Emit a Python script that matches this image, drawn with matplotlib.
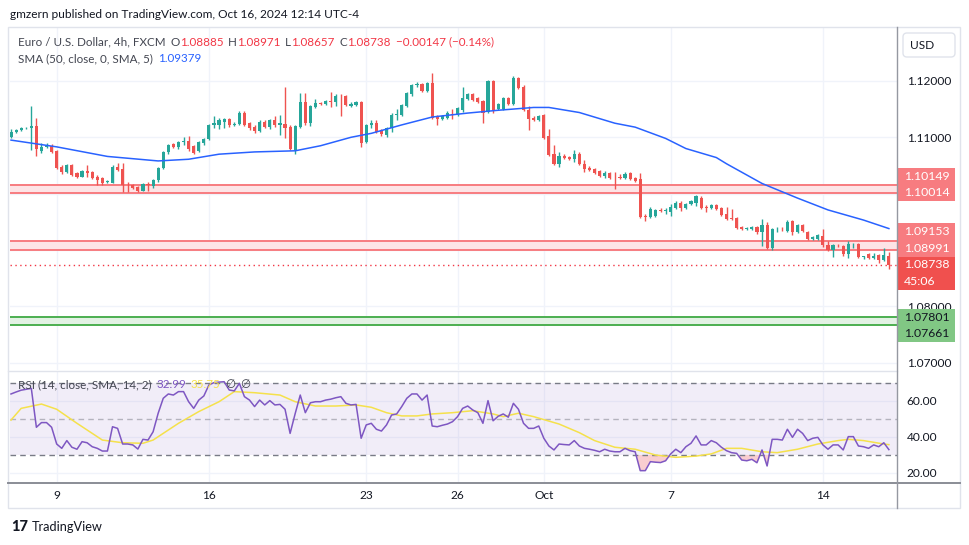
import matplotlib
matplotlib.use("Agg")
import numpy as np
import matplotlib.pyplot as plt
from matplotlib.patches import Rectangle, FancyBboxPatch

plt.rcParams['font.family'] = ['Lato', 'DejaVu Sans']

# 4h candles, EUR/USD (FXCM)
opens = [
    1.1100, 1.1109, 1.1113, 1.1116, 1.1116, 1.1120, 1.1076, 1.1082, 1.1085, 1.1076,
    1.1048, 1.1038, 1.1050, 1.1036, 1.1030, 1.1040, 1.1038, 1.1030, 1.1027, 1.1020,
    1.1019, 1.1048, 1.1044, 1.1016, 1.1015, 1.1012, 1.1005, 1.1017, 1.1014, 1.1024,
    1.1045, 1.1073, 1.1088, 1.1083, 1.1092, 1.1094, 1.1085, 1.1075, 1.1089, 1.1097,
    1.1121, 1.1122, 1.1128, 1.1133, 1.1121, 1.1123, 1.1144, 1.1125, 1.1119, 1.1112,
    1.1128, 1.1119, 1.1130, 1.1122, 1.1124, 1.1119, 1.1077, 1.1119, 1.1163, 1.1125,
    1.1154, 1.1161, 1.1159, 1.1165, 1.1163, 1.1174, 1.1173, 1.1155, 1.1157, 1.1163,
    1.1091, 1.1121, 1.1126, 1.1113, 1.1104, 1.1116, 1.1140, 1.1140, 1.1155, 1.1176,
    1.1192, 1.1195, 1.1183, 1.1196, 1.1137, 1.1133, 1.1135, 1.1141, 1.1140, 1.1149,
    1.1168, 1.1176, 1.1169, 1.1164, 1.1145, 1.1200, 1.1150, 1.1150, 1.1170, 1.1159,
    1.1205, 1.1190, 1.1148, 1.1135, 1.1131, 1.1140, 1.1103, 1.1070, 1.1053, 1.1067,
    1.1065, 1.1061, 1.1071, 1.1053, 1.1045, 1.1044, 1.1040, 1.1031, 1.1037, 1.1030,
    1.1030, 1.1028, 1.1036, 1.1028, 1.1026, 1.0960, 1.0959, 1.0961, 1.0970, 1.0969,
    1.0968, 1.0974, 1.0984, 1.0974, 1.0981, 1.0984, 1.0993, 1.0976, 1.0975, 1.0979,
    1.0975, 1.0963, 1.0956, 1.0957, 1.0941, 1.0938, 1.0938, 1.0941, 1.0932, 1.0944,
    1.0904, 1.0937, 1.0938, 1.0934, 1.0951, 1.0932, 1.0944, 1.0932, 1.0919, 1.0920,
    1.0925, 1.0909, 1.0900, 1.0909, 1.0907, 1.0892, 1.0910, 1.0910, 1.0888, 1.0892,
    1.0885, 1.0891, 1.0882, 1.08885,
]
highs = [
    1.1114, 1.1115, 1.1119, 1.1119, 1.1156, 1.1135, 1.1089, 1.1090, 1.1088, 1.1078,
    1.1050, 1.1053, 1.1052, 1.1038, 1.1042, 1.1050, 1.1041, 1.1033, 1.1030, 1.1024,
    1.1050, 1.1055, 1.1055, 1.1020, 1.1017, 1.1014, 1.1018, 1.1021, 1.1026, 1.1047,
    1.1075, 1.1088, 1.1090, 1.1094, 1.1100, 1.1102, 1.1087, 1.1093, 1.1099, 1.1124,
    1.1137, 1.1135, 1.1135, 1.1135, 1.1127, 1.1147, 1.1146, 1.1128, 1.1122, 1.1130,
    1.1131, 1.1132, 1.1137, 1.1140, 1.1190, 1.1122, 1.1122, 1.1179, 1.1178, 1.1158,
    1.1168, 1.1163, 1.1167, 1.1181, 1.1177, 1.1176, 1.1175, 1.1162, 1.1165, 1.1165,
    1.1124, 1.1131, 1.1130, 1.1115, 1.1119, 1.1143, 1.1150, 1.1159, 1.1181, 1.1195,
    1.1199, 1.1197, 1.1198, 1.1214, 1.1139, 1.1140, 1.1146, 1.1150, 1.1154, 1.1190,
    1.1178, 1.1178, 1.1171, 1.1166, 1.1202, 1.1202, 1.1161, 1.1171, 1.1172, 1.1209,
    1.1207, 1.1192, 1.1155, 1.1137, 1.1140, 1.1142, 1.1114, 1.1086, 1.1074, 1.1071,
    1.1067, 1.1077, 1.1074, 1.1060, 1.1049, 1.1046, 1.1042, 1.1041, 1.1039, 1.1039,
    1.1034, 1.1039, 1.1038, 1.1030, 1.1037, 1.0963, 1.0976, 1.0972, 1.0975, 1.0975,
    1.0981, 1.0986, 1.0986, 1.0984, 1.0988, 1.0998, 1.0995, 1.0980, 1.0981, 1.0981,
    1.0977, 1.0977, 1.0972, 1.0959, 1.0943, 1.0941, 1.0943, 1.0943, 1.0955, 1.0950,
    1.0939, 1.0940, 1.0941, 1.0953, 1.0953, 1.0946, 1.0946, 1.0934, 1.0925, 1.0929,
    1.0937, 1.0915, 1.0911, 1.0911, 1.0909, 1.0916, 1.0913, 1.0913, 1.0890, 1.0894,
    1.0894, 1.0893, 1.0903, 1.08971,
]
lows = [
    1.1098, 1.1107, 1.1111, 1.1114, 1.1078, 1.1066, 1.1072, 1.1081, 1.1072, 1.1044,
    1.1034, 1.1036, 1.1031, 1.1027, 1.1029, 1.1029, 1.1026, 1.1015, 1.1016, 1.1019,
    1.1018, 1.1040, 1.1002, 1.1002, 1.1008, 1.1003, 1.1004, 1.1005, 1.1010, 1.1021,
    1.1043, 1.1071, 1.1081, 1.1080, 1.1086, 1.1075, 1.1070, 1.1073, 1.1087, 1.1095,
    1.1116, 1.1115, 1.1117, 1.1119, 1.1120, 1.1121, 1.1120, 1.1113, 1.1108, 1.1110,
    1.1116, 1.1115, 1.1119, 1.1104, 1.1098, 1.1077, 1.1070, 1.1117, 1.1122, 1.1120,
    1.1152, 1.1157, 1.1157, 1.1154, 1.1155, 1.1137, 1.1155, 1.1153, 1.1155, 1.1083,
    1.1089, 1.1117, 1.1108, 1.1103, 1.1101, 1.1110, 1.1130, 1.1138, 1.1153, 1.1174,
    1.1189, 1.1181, 1.1181, 1.1132, 1.1122, 1.1130, 1.1133, 1.1132, 1.1138, 1.1145,
    1.1166, 1.1164, 1.1161, 1.1125, 1.1143, 1.1144, 1.1148, 1.1148, 1.1157, 1.1157,
    1.1186, 1.1146, 1.1113, 1.1129, 1.1129, 1.1097, 1.1066, 1.1050, 1.1048, 1.1062,
    1.1060, 1.1057, 1.1050, 1.1038, 1.1040, 1.1035, 1.1029, 1.1027, 1.1026, 1.1008,
    1.1026, 1.1026, 1.1024, 1.1021, 1.0957, 1.0952, 1.0957, 1.0959, 1.0967, 1.0964,
    1.0960, 1.0972, 1.0969, 1.0972, 1.0979, 1.0978, 1.0972, 1.0968, 1.0973, 1.0970,
    1.0961, 1.0953, 1.0953, 1.0937, 1.0936, 1.0936, 1.0936, 1.0929, 1.0907, 1.0902,
    1.0900, 1.0931, 1.0933, 1.0932, 1.0927, 1.0930, 1.0932, 1.0917, 1.0917, 1.0918,
    1.0906, 1.0898, 1.0888, 1.0906, 1.0890, 1.0886, 1.0903, 1.0886, 1.0883, 1.0883,
    1.0883, 1.0877, 1.0880, 1.08657,
]
closes = [
    1.1110, 1.1113, 1.1117, 1.1117, 1.1120, 1.1080, 1.1083, 1.1084, 1.1074, 1.1046,
    1.1038, 1.1050, 1.1033, 1.1029, 1.1040, 1.1036, 1.1028, 1.1024, 1.1018, 1.1022,
    1.1048, 1.1042, 1.1015, 1.1015, 1.1010, 1.1005, 1.1017, 1.1015, 1.1024, 1.1045,
    1.1073, 1.1086, 1.1083, 1.1092, 1.1093, 1.1079, 1.1072, 1.1091, 1.1097, 1.1122,
    1.1125, 1.1130, 1.1133, 1.1121, 1.1123, 1.1144, 1.1122, 1.1117, 1.1111, 1.1128,
    1.1119, 1.1130, 1.1121, 1.1125, 1.1117, 1.1080, 1.1120, 1.1163, 1.1125, 1.1156,
    1.1161, 1.1159, 1.1165, 1.1163, 1.1173, 1.1173, 1.1157, 1.1160, 1.1163, 1.1090,
    1.1122, 1.1126, 1.1110, 1.1105, 1.1117, 1.1140, 1.1141, 1.1157, 1.1179, 1.1193,
    1.1195, 1.1183, 1.1196, 1.1134, 1.1133, 1.1138, 1.1143, 1.1139, 1.1152, 1.1169,
    1.1176, 1.1166, 1.1163, 1.1144, 1.1200, 1.1146, 1.1159, 1.1169, 1.1159, 1.1206,
    1.1188, 1.1148, 1.1133, 1.1131, 1.1138, 1.1099, 1.1069, 1.1053, 1.1067, 1.1064,
    1.1062, 1.1071, 1.1052, 1.1044, 1.1042, 1.1037, 1.1031, 1.1037, 1.1028, 1.1029,
    1.1028, 1.1035, 1.1026, 1.1023, 1.0959, 1.0959, 1.0972, 1.0970, 1.0969, 1.0970,
    1.0977, 1.0984, 1.0974, 1.0982, 1.0986, 1.0995, 1.0974, 1.0975, 1.0979, 1.0972,
    1.0962, 1.0955, 1.0955, 1.0939, 1.0938, 1.0939, 1.0940, 1.0931, 1.0944, 1.0904,
    1.0937, 1.0938, 1.0937, 1.0950, 1.0932, 1.0944, 1.0934, 1.0919, 1.0923, 1.0926,
    1.0908, 1.0900, 1.0909, 1.0908, 1.0892, 1.0910, 1.0911, 1.0888, 1.0889, 1.0885,
    1.0890, 1.0882, 1.0891, 1.08738,
]

# SMA(50) read at points along the line
sma_idx = [0, 9, 19, 29, 35, 41, 48, 56, 61, 67, 71, 77, 83, 90, 96, 103, 106,
           112, 119, 123, 129, 133, 139, 141, 148, 155, 161, 168, 173]
sma_val = [1.1095, 1.1083, 1.1066, 1.1058, 1.1061, 1.1070, 1.1074, 1.1076, 1.1085,
           1.1100, 1.1107, 1.1122, 1.1136, 1.1143, 1.1148, 1.1153, 1.1153, 1.1144,
           1.1125, 1.1118, 1.1098, 1.1080, 1.1064, 1.1053, 1.1018, 1.0992, 1.0971,
           1.0953, 1.09379]

# RSI(14), one value per bar
rsi = [
    63.9, 65.0, 66.0, 66.5, 67.0, 45.4, 48.0, 48.0, 45.4, 36.1,
    33.7, 38.0, 34.3, 33.2, 37.4, 36.8, 34.6, 33.7, 32.2, 32.2,
    45.7, 44.8, 36.1, 36.1, 35.6, 33.3, 38.7, 38.3, 42.9, 53.2,
    61.5, 63.9, 63.3, 65.2, 65.2, 59.6, 55.9, 60.5, 62.8, 68.9,
    70.2, 70.5, 70.7, 66.1, 65.6, 69.8, 62.4, 60.5, 56.9, 60.5,
    57.8, 60.2, 57.8, 58.1, 55.4, 42.0, 53.0, 63.3, 53.5, 59.0,
    59.6, 59.6, 60.5, 61.0, 61.8, 62.4, 58.7, 57.8, 58.1, 39.3,
    46.7, 47.6, 44.3, 43.3, 46.7, 52.2, 52.8, 56.9, 61.5, 63.9,
    63.9, 60.5, 63.3, 46.1, 45.7, 46.5, 47.2, 48.5, 51.3, 55.9,
    57.2, 55.0, 53.5, 47.6, 60.2, 49.0, 51.5, 52.8, 51.0, 58.7,
    55.4, 47.6, 44.8, 44.8, 46.1, 39.3, 35.0, 32.8, 36.1, 35.8,
    35.6, 38.0, 35.0, 33.7, 33.2, 32.6, 31.8, 33.2, 32.2, 31.8,
    31.8, 33.7, 32.4, 31.8, 21.3, 21.3, 26.3, 26.0, 25.8, 26.8,
    30.6, 33.2, 31.3, 34.6, 36.5, 40.6, 35.6, 35.6, 38.0, 36.8,
    34.3, 32.4, 31.3, 30.9, 27.2, 26.8, 27.6, 25.7, 32.8, 23.9,
    38.7, 38.7, 38.3, 44.3, 39.8, 44.3, 42.0, 38.0, 39.3, 39.8,
    35.6, 33.2, 35.6, 35.6, 32.8, 40.2, 40.2, 35.0, 34.6, 33.7,
    35.6, 34.6, 36.8, 32.99,
]
# RSI moving average (yellow), read at points
rsi_ma_idx = [0, 2, 6, 9, 13, 18, 22, 26, 28, 33, 37, 41, 44, 48, 53, 56, 60, 64,
              68, 71, 74, 77, 80, 83, 87, 91, 95, 97, 100, 103, 108, 112, 115, 119,
              123, 127, 131, 135, 138, 141, 144, 148, 151, 155, 159, 163, 165, 168,
              172, 173]
rsi_ma_val = [49.4, 55.9, 58.3, 55.4, 47.6, 38.3, 36.8, 36.5, 38.3, 47.6, 54.1, 59.6,
              65.2, 64.6, 63.3, 59.6, 57.2, 57.2, 57.8, 56.5, 53.5, 51.7, 51.7, 52.8,
              53.5, 54.6, 52.8, 51.3, 53.2, 51.3, 47.2, 42.4, 38.0, 34.3, 33.2, 30.0,
              28.7, 29.4, 30.6, 33.7, 33.7, 31.8, 31.3, 33.2, 36.1, 38.0, 38.7, 38.0,
              36.1, 35.75]

date_idx = [9, 39, 70, 88, 105, 130, 160]
date_labels = ["9", "16", "23", "26", "Oct", "7", "14"]

price_ticks = [1.07, 1.08, 1.09, 1.10, 1.11, 1.12]
price_labels = ["1.07000", "1.08000", "", "", "1.11000", "1.12000"]
rsi_ticks = [20, 40, 60]

red_zone_hi = (1.10014, 1.10149)
red_zone_lo = (1.08991, 1.09153)
green_zone = (1.07661, 1.07801)
last_price = 1.08738
countdown = "45:06"

GREEN = "#26A69A"
RED = "#EF5350"
TXT = "#131722"
GRID = "#F0F3FA"

W, H = 970, 545
fig = plt.figure(figsize=(W / 100, H / 100), dpi=100)
fig.patch.set_facecolor("white")


def rect(x0, y0, x1, y1):
    return [x0 / W, 1 - y1 / H, (x1 - x0) / W, (y1 - y0) / H]


ax = fig.add_axes(rect(10, 28, 897, 370))
rx = fig.add_axes(rect(10, 372, 897, 482))

n = len(closes)
idx = np.arange(n)
o = np.array(opens)
c = np.array(closes)
hi = np.array(highs)
lo = np.array(lows)
cols = np.where(c >= o, GREEN, RED)

# main price panel
ax.set_xlim(-0.2, 174.6)
ax.set_ylim(1.06867, 1.12941)
ax.set_yticks(price_ticks)
ax.set_yticklabels(price_labels)
ax.set_xticks(date_idx)
ax.set_xticklabels([])
ax.grid(True, color=GRID, lw=1)
ax.set_axisbelow(True)
ax.yaxis.tick_right()
ax.tick_params(axis="y", length=0, pad=7, labelsize=8.6, labelcolor="#131722")
ax.tick_params(axis="x", length=0)
for s in ax.spines.values():
    s.set_visible(False)

for lo_v, hi_v, fill, edge in [(*red_zone_hi, "#FDE4E6", "#F77C80"),
                               (*red_zone_lo, "#FDE4E6", "#F77C80"),
                               (*green_zone, "#E3F2E4", "#4CAF50")]:
    ax.axhspan(lo_v, hi_v, color=fill, lw=0, zorder=1)
    ax.axhline(lo_v, color=edge, lw=1.4, zorder=2)
    ax.axhline(hi_v, color=edge, lw=1.4, zorder=2)

ax.axhline(last_price, color="#F23645", lw=1, ls=(0, (1, 2.5)), zorder=2)

ax.vlines(idx, lo, hi, colors=cols, lw=1, zorder=3)
body = np.maximum(np.abs(c - o), 0.00005)
ax.bar(idx, body, bottom=np.minimum(o, c), width=0.62, color=cols, lw=0, zorder=4)

ax.plot(sma_idx, sma_val, color="#2962FF", lw=1.1, zorder=5)

# RSI panel
r = np.array(rsi)
rx.set_xlim(-0.2, 174.6)
rx.set_ylim(15, 76.1)
rx.axhspan(30, 70, color="#7E57C2", alpha=0.1, lw=0)
rx.axhline(70, color="#787B86", lw=1, ls=(0, (4, 3)))
rx.axhline(50, color="#787B86", lw=1, ls=(0, (4, 3)), alpha=0.5)
rx.axhline(30, color="#787B86", lw=1, ls=(0, (4, 3)))
rx.fill_between(idx, r, 30, where=r < 30, interpolate=True, color="#F7B9BC", alpha=0.7, lw=0)
rx.fill_between(idx, r, 70, where=r > 70, interpolate=True, color="#A5D6A7", alpha=0.7, lw=0)
rx.plot(rsi_ma_idx, rsi_ma_val, color="#F5E14B", lw=1.1)
rx.plot(idx, r, color="#7E57C2", lw=1.1)
rx.set_yticks(rsi_ticks)
rx.set_yticklabels([f"{v:.2f}" for v in rsi_ticks])
rx.set_xticks(date_idx)
rx.set_xticklabels(date_labels)
rx.grid(True, color=GRID, lw=1)
rx.set_axisbelow(True)
rx.yaxis.tick_right()
rx.tick_params(axis="y", length=0, pad=7, labelsize=8.6, labelcolor=TXT)
rx.tick_params(axis="x", length=0, pad=6, labelsize=8.6, labelcolor=TXT)
for s in rx.spines.values():
    s.set_visible(False)

# overlay in pixel coordinates for frame, labels and texts
ov = fig.add_axes([0, 0, 1, 1])
ov.set_xlim(0, W)
ov.set_ylim(H, 0)
ov.axis("off")
ov.set_zorder(10)
ov.patch.set_alpha(0)

ov.add_patch(Rectangle((8, 27), 952, 481, fill=False, ec="#E0E3EB", lw=1))
ov.plot([8, 897], [371, 371], color="#E0E3EB", lw=1)
ov.plot([8, 960], [482.5, 482.5], color="#8A8D96", lw=1.4)
ov.plot([897.5, 897.5], [27, 508], color="#9598A1", lw=1)
ov.add_patch(FancyBboxPatch((903, 33), 52, 24, boxstyle="round,pad=0,rounding_size=4",
                            fc="white", ec="#E0E3EB", lw=1))
ov.text(910, 45.5, "USD", fontsize=8.6, color=TXT, va="center", ha="left")


def py(p):
    return H - ax.transData.transform((0, p))[1]


def price_box(rows, color, tcolor):
    top = rows[0][1] - 8.5
    bot = rows[-1][1] + 8.5
    ov.add_patch(Rectangle((898, top), 57, bot - top, fc=color, ec="none"))
    for label, y in rows:
        ov.text(904, y, label, fontsize=8.8, color=tcolor, va="center", ha="left")


ROW = 16.5
y1 = py(red_zone_hi[0])
price_box([(f"{red_zone_hi[1]:.5f}", y1 - ROW), (f"{red_zone_hi[0]:.5f}", y1)], "#F77C80", "white")
y3 = py(last_price)
price_box([(f"{last_price:.5f}", y3), (countdown, y3 + ROW)], "#F0504E", "white")
y2 = y3 - ROW
price_box([(f"{red_zone_lo[1]:.5f}", y2 - ROW), (f"{red_zone_lo[0]:.5f}", y2)], "#F77C80", "white")
y4 = py(green_zone[1])
price_box([(f"{green_zone[1]:.5f}", y4), (f"{green_zone[0]:.5f}", y4 + ROW)], "#81C784", TXT)


def chain(parts, x, y, size=8.4):
    prev = None
    for txt, color, gap in parts:
        if prev is None:
            prev = ov.text(x, y, txt, color=color, fontsize=size, va="center", ha="left")
        else:
            prev = ov.annotate(txt, xy=(1, 0.5), xycoords=prev, xytext=(gap, 0),
                               textcoords="offset points", color=color, fontsize=size,
                               va="center", ha="left")


ov.text(10, 14, "gmzern published on TradingView.com, Oct 16, 2024 12:14 UTC-4",
        fontsize=8.6, color=TXT, va="center", ha="left")

GR = "#434651"
VR = "#F23645"
chain([("Euro / U.S. Dollar, 4h, FXCM", GR, 0),
       ("O", GR, 3.5), ("1.08885", VR, 0),
       ("H", GR, 3.5), ("1.08971", VR, 0),
       ("L", GR, 3.5), ("1.08657", VR, 0),
       ("C", GR, 3.5), ("1.08738", VR, 0),
       ("\u22120.00147 (\u22120.14%)", VR, 3.5)], 18, 42)
chain([("SMA (50, close, 0, SMA, 5)", GR, 0), ("1.09379", "#2962FF", 3.5)], 18, 59)
chain([("RSI (14, close, SMA, 14, 2)", GR, 0), ("32.99", "#7E57C2", 3.5),
       ("35.75", "#F5E14B", 3.5), ("\u2205", GR, 3.5), ("\u2205", GR, 3.5)], 18, 385)

ov.text(11, 527, "17", fontsize=10.5, fontweight="black", color=TXT, va="center", ha="left")
ov.text(32, 527, "TradingView", fontsize=9.2, color=TXT, va="center", ha="left")

fig.savefig("out.png", dpi=100)
